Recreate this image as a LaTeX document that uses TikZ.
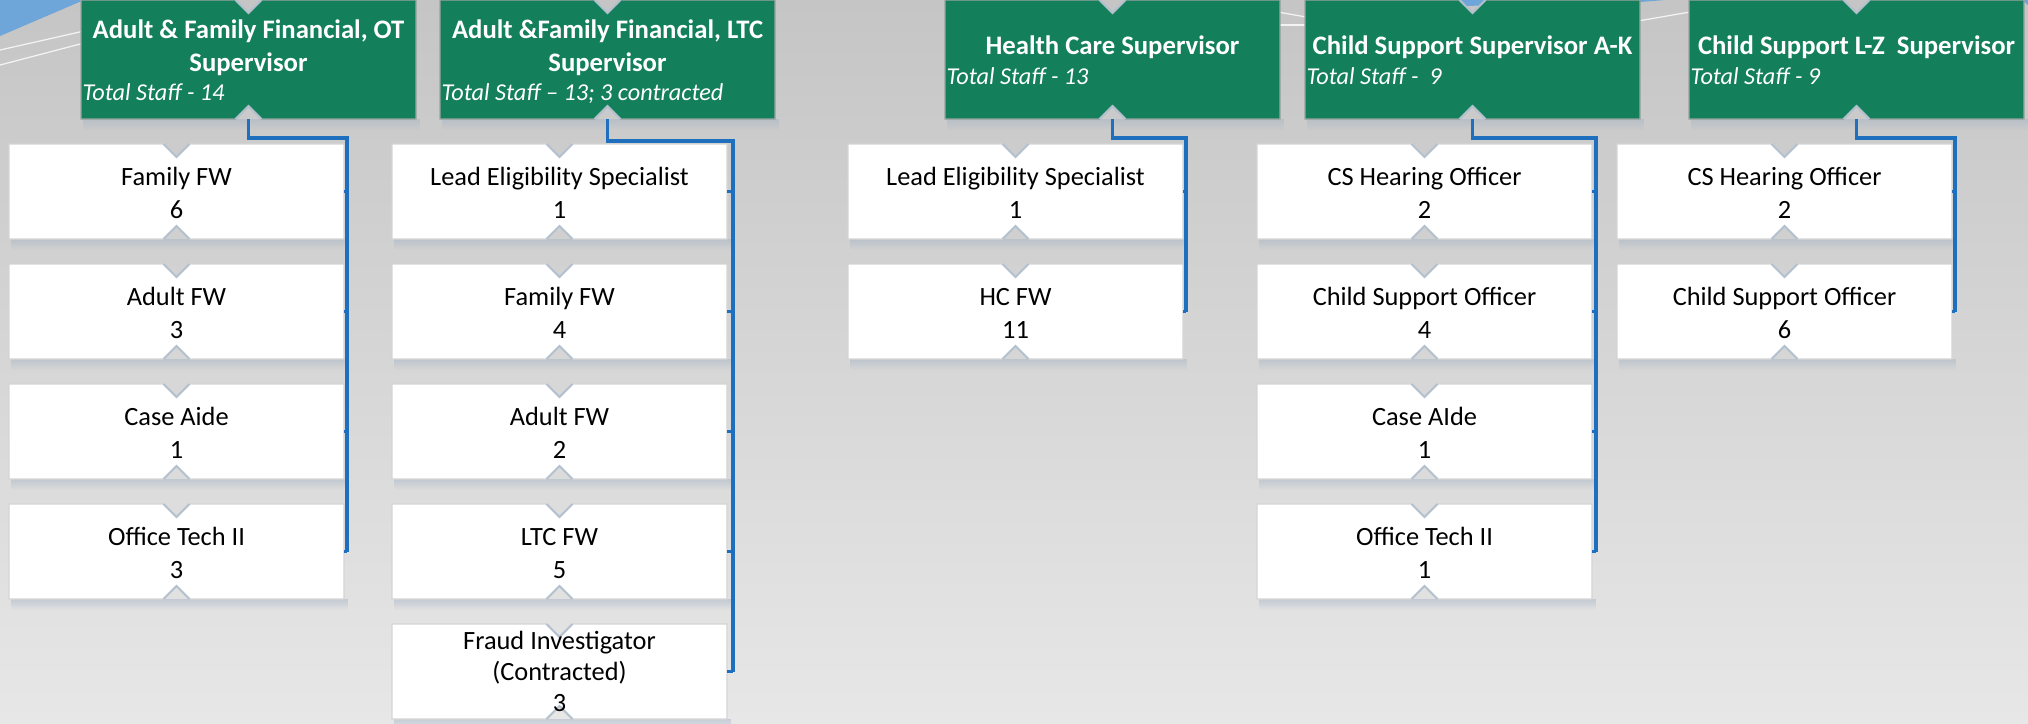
\documentclass[tikz,border=0pt]{standalone}
\usepackage{fontspec}
\setmainfont{Carlito}
\usetikzlibrary{fadings}
\definecolor{bgtop}{HTML}{C5C5C5}
\definecolor{bgbot}{HTML}{E7E7E7}
\definecolor{supgreen}{HTML}{137F5B}
\definecolor{linkblue}{HTML}{1E6FBE}
\definecolor{notchc}{HTML}{B3C1CF}
\definecolor{cborder}{HTML}{D4D4D4}
\definecolor{sborder}{HTML}{9AA4A0}
\definecolor{shadowc}{HTML}{A6B5C6}
\definecolor{decoblue}{HTML}{6FA6DA}
\tikzset{
  cbox/.style={rectangle, inner sep=0pt, outer sep=0pt, minimum width=33.5mm, minimum height=9.5mm},
  sbox/.style={rectangle, inner sep=0pt, outer sep=0pt, minimum width=33.5mm, minimum height=11.9mm},
  ctext/.style={inner sep=0pt, font=\fontsize{7.5}{9}\selectfont, text=black},
  stitle/.style={inner sep=0pt, font=\fontsize{7.6}{9}\selectfont\bfseries, text=white},
  sstaff/.style={inner sep=0pt, font=\fontsize{6.9}{9}\selectfont\itshape, text=white},
  notchline/.style={draw=notchc, line width=0.55pt, line join=miter},
  conn/.style={draw=linkblue, line width=1pt},
  decoline/.style={draw=white, line width=0.35pt, opacity=0.8},
}
\newcommand\notched[3]{%
  \fill[shadowc, opacity=0.5, path fading=south] ([xshift=0.2mm]#1.south west) rectangle ([xshift=0.4mm, yshift=-1.1mm]#1.south east);
  \filldraw[fill=#2, draw=#3, line width=0.4pt] (#1.north west) -- ([xshift=-1.3mm]#1.north) -- ([yshift=-1.3mm]#1.north) -- ([xshift=1.3mm]#1.north) -- (#1.north east) -- (#1.south east) -- ([xshift=1.3mm]#1.south) -- ([yshift=1.3mm]#1.south) -- ([xshift=-1.3mm]#1.south) -- (#1.south west) -- cycle;
  \draw[notchline] ([xshift=-1.3mm]#1.north) -- ([yshift=-1.3mm]#1.north) -- ([xshift=1.3mm]#1.north);
  \draw[notchline] ([xshift=-1.3mm]#1.south) -- ([yshift=1.3mm]#1.south) -- ([xshift=1.3mm]#1.south);
}
% child box: name, left, top, line1, line2
\newcommand\childbox[5]{%
  \node[cbox, anchor=north west] (#1) at (#2,#3) {};
  \notched{#1}{white}{cborder}
  \node[ctext, anchor=base] (#1-a) at ([yshift=-4.1mm]#1.north) {#4};
  \node[ctext, anchor=base] (#1-b) at ([yshift=-7.4mm]#1.north) {#5};
}
\begin{document}
\begin{tikzpicture}[x=0.1mm, y=-0.1mm]
\useasboundingbox (0,0) rectangle (2028,723);
\shade[top color=bgtop, bottom color=bgbot] (0,0) rectangle (2028,723);
% background decoration
\fill[decoblue] (0,0) -- (84,0) -- (0,36) -- cycle;
\draw[decoline] (0,50) -- (84,31);
\draw[decoline] (0,65) -- (84,43);
\draw[decoline] (1278,12) -- (1306,17);
\draw[decoline] (1278,25) -- (1306,25);
\draw[decoline] (1638,21) -- (1690,12);
\fill[decoblue] (1450,0) -- (1665,0) -- (1640,2) -- (1462,6) -- cycle;
\fill[decoblue] (2022,0) -- (2028,0) -- (2028,5) -- cycle;

% supervisors
\foreach \n/\x in {s1/81, s2/440, s3/945, s4/1305, s5/1689}{
  \node[sbox, anchor=north west] (\n) at (\x,0) {};
  \notched{\n}{supgreen}{sborder}
}
\node[stitle, anchor=base] (s1-a) at ([yshift=-3.85mm]s1.north) {Adult \& Family Financial, OT};
\node[stitle, anchor=base] (s1-b) at ([yshift=-7.15mm]s1.north) {Supervisor};
\node[sstaff, anchor=base west] (s1-c) at ([xshift=0.1mm, yshift=-10.05mm]s1.north west) {Total Staff - 14};
\node[stitle, anchor=base] (s2-a) at ([yshift=-3.85mm]s2.north) {Adult \&Family Financial, LTC};
\node[stitle, anchor=base] (s2-b) at ([yshift=-7.15mm]s2.north) {Supervisor};
\node[sstaff, anchor=base west] (s2-c) at ([xshift=0.1mm, yshift=-10.05mm]s2.north west) {Total Staff – 13; 3 contracted};
\node[stitle, anchor=base] (s3-a) at ([yshift=-5.45mm]s3.north) {Health Care Supervisor};
\node[sstaff, anchor=base west] (s3-c) at ([xshift=0.1mm, yshift=-8.45mm]s3.north west) {Total Staff - 13};
\node[stitle, anchor=base] (s4-a) at ([yshift=-5.45mm]s4.north) {Child Support Supervisor A-K};
\node[sstaff, anchor=base west] (s4-c) at ([xshift=0.1mm, yshift=-8.45mm]s4.north west) {Total Staff -\ \ 9};
\node[stitle, anchor=base] (s5-a) at ([yshift=-5.45mm]s5.north) {Child Support L-Z\ \ Supervisor};
\node[sstaff, anchor=base west] (s5-c) at ([xshift=0.1mm, yshift=-8.45mm]s5.north west) {Total Staff - 9};

% column 1
\childbox{c11}{9}{144}{Family FW}{6}
\childbox{c12}{9}{264}{Adult FW}{3}
\childbox{c13}{9}{384}{Case Aide}{1}
\childbox{c14}{9}{504}{Office Tech II}{3}
% column 2
\childbox{c21}{392}{144}{Lead Eligibility Specialist}{1}
\childbox{c22}{392}{264}{Family FW}{4}
\childbox{c23}{392}{384}{Adult FW}{2}
\childbox{c24}{392}{504}{LTC FW}{5}
\node[cbox, anchor=north west] (c25) at (392,624) {};
\notched{c25}{white}{cborder}
\node[ctext, anchor=base] (c25-a) at ([yshift=-2.5mm]c25.north) {Fraud Investigator};
\node[ctext, anchor=base] (c25-b) at ([yshift=-5.6mm]c25.north) {(Contracted)};
\node[ctext, anchor=base] (c25-c) at ([yshift=-8.7mm]c25.north) {3};
% column 3
\childbox{c31}{848}{144}{Lead Eligibility Specialist}{1}
\childbox{c32}{848}{264}{HC FW}{11}
% column 4
\childbox{c41}{1257}{144}{CS Hearing Officer}{2}
\childbox{c42}{1257}{264}{Child Support Officer}{4}
\childbox{c43}{1257}{384}{Case AIde}{1}
\childbox{c44}{1257}{504}{Office Tech II}{1}
% column 5
\childbox{c51}{1617}{144}{CS Hearing Officer}{2}
\childbox{c52}{1617}{264}{Child Support Officer}{6}

% connectors
\coordinate (r1) at (347,138);
\coordinate (r2) at (733,141);
\coordinate (r3) at (1186,138);
\coordinate (r4) at (1596,138);
\coordinate (r5) at (1955,138);
\draw[conn] (s1.south) |- (r1) -- (r1 |- c14.east);
\draw[conn] (s2.south) |- (r2) -- (r2 |- c25.east);
\draw[conn] (s3.south) |- (r3) -- (r3 |- c32.east);
\draw[conn] (s4.south) |- (r4) -- (r4 |- c44.east);
\draw[conn] (s5.south) |- (r5) -- (r5 |- c52.east);
\foreach \c in {c11,c12,c13,c14}{\draw[conn] (\c.east) -- (\c.east -| r1);}
\foreach \c in {c21,c22,c23,c24,c25}{\draw[conn] (\c.east) -- (\c.east -| r2);}
\foreach \c in {c31,c32}{\draw[conn] (\c.east) -- (\c.east -| r3);}
\foreach \c in {c41,c42,c43,c44}{\draw[conn] (\c.east) -- (\c.east -| r4);}
\foreach \c in {c51,c52}{\draw[conn] (\c.east) -- (\c.east -| r5);}
\end{tikzpicture}
\end{document}
